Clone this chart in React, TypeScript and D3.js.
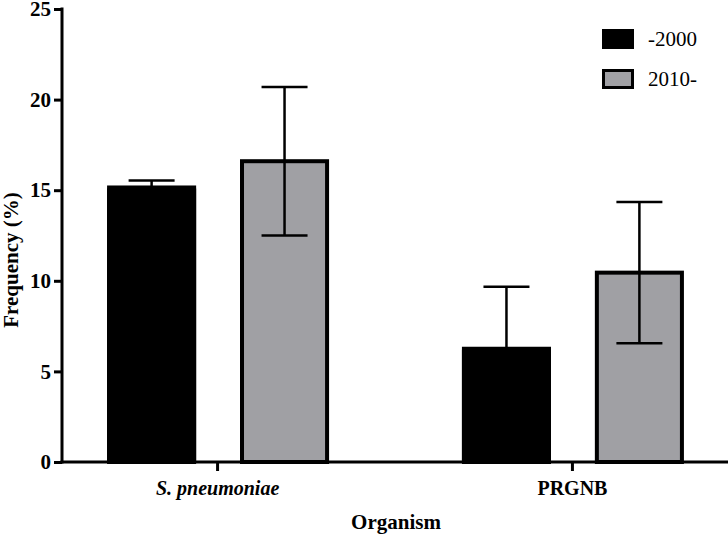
import { useEffect, useRef } from "react";
import * as d3 from "d3";

const organisms = ["S. pneumoniae", "PRGNB"];
const periods = ["-2000", "2010-"];
const means2000 = [15.15, 6.25];
const means2010 = [16.6, 10.45];
const err2000 = [0.38, 3.42];
const err2010 = [4.1, 3.9];
const yTicks = [0, 5, 10, 15, 20, 25];

const W = 728;
const H = 535;
const FONT = "Liberation Serif, Times New Roman, serif";

const App = () => {
  const svgRef = useRef<SVGSVGElement>(null);

  useEffect(() => {
    const svg = d3.select(svgRef.current);
    svg.selectAll("*").remove();

    const x0 = d3.scalePoint().domain(organisms).range([62, 727]).padding(0.437);
    const x1 = d3.scaleBand().domain(periods).range([-110, 112]).paddingInner(0.33).paddingOuter(0);
    const y = d3.scaleLinear().domain([0, 25]).range([462, 9]);
    const fills = ["#000000", "#a0a0a4"];

    const rows = organisms.flatMap((org, i) => [
      { org, period: periods[0], v: means2000[i], e: err2000[i], k: 0 },
      { org, period: periods[1], v: means2010[i], e: err2010[i], k: 1 },
    ]);

    const sw = 4;
    svg.append("g")
      .selectAll("rect")
      .data(rows)
      .join("rect")
      .attr("x", (d) => (x0(d.org) as number) + (x1(d.period) as number) + sw / 2)
      .attr("width", x1.bandwidth() - sw)
      .attr("y", (d) => y(d.v))
      .attr("height", (d) => y(0) - y(d.v))
      .attr("fill", (d) => fills[d.k])
      .attr("stroke", "#000")
      .attr("stroke-width", sw);

    // error bars
    const eb = svg.append("g").attr("stroke", "#000").attr("stroke-width", 2.5);
    rows.forEach((d) => {
      const cx = (x0(d.org) as number) + (x1(d.period) as number) + x1.bandwidth() / 2;
      eb.append("line")
        .attr("x1", cx).attr("x2", cx)
        .attr("y1", y(d.v - d.e)).attr("y2", y(d.v + d.e));
      [d.v + d.e, d.v - d.e].forEach((t) => {
        eb.append("line")
          .attr("x1", cx - 23).attr("x2", cx + 23)
          .attr("y1", y(t)).attr("y2", y(t));
      });
    });

    // black bars hide their lower whisker
    rows
      .filter((d) => d.k === 0)
      .forEach((d) => {
        const bx = (x0(d.org) as number) + (x1(d.period) as number);
        svg.append("rect")
          .attr("x", bx).attr("width", x1.bandwidth())
          .attr("y", y(d.v) + 1).attr("height", y(0) - y(d.v) - 1)
          .attr("fill", "#000");
      });

    const txt = (sel: any, size: number, bold = true) =>
      sel.style("font-family", FONT).style("font-size", size + "px")
        .style("font-weight", bold ? "bold" : "normal").attr("fill", "#000");

    // y axis
    const ya = svg.append("g").attr("transform", "translate(62,0)")
      .call(d3.axisLeft(y).tickValues(yTicks).tickSize(8).tickSizeOuter(0).tickPadding(3));
    ya.select(".domain").attr("stroke-width", 3).attr("d", `M0,${y(25) - 1.5}V${y(0) + 1.5}`);
    ya.selectAll(".tick line").attr("stroke-width", 3);
    txt(ya.selectAll(".tick text"), 21);

    // x axis
    const xa = svg.append("g").attr("transform", `translate(0,${y(0)})`)
      .call(d3.axisBottom(x0).tickSize(9).tickSizeOuter(0).tickPadding(10));
    xa.select(".domain").attr("stroke-width", 3).attr("d", "M60.5,0H728");
    xa.selectAll(".tick line").attr("stroke-width", 3);
    txt(xa.selectAll(".tick text"), 20)
      .style("font-style", (d: string) => (d === "S. pneumoniae" ? "italic" : "normal"));

    // axis titles
    txt(svg.append("text")
      .attr("transform", "translate(18,260) rotate(-90)")
      .attr("text-anchor", "middle")
      .text("Frequency (%)"), 21);
    txt(svg.append("text")
      .attr("x", 396).attr("y", 529)
      .attr("text-anchor", "middle")
      .text("Organism"), 21);

    // legend
    const lg = svg.append("g").attr("transform", "translate(602,29)");
    periods.forEach((p, i) => {
      const g = lg.append("g").attr("transform", `translate(0,${i * 40})`);
      g.append("rect")
        .attr("x", 1.5).attr("y", 1.5).attr("width", 29).attr("height", 17)
        .attr("fill", fills[i]).attr("stroke", "#000").attr("stroke-width", 3);
      txt(g.append("text").attr("x", 46).attr("y", 17).text(p), 21, false);
    });
  }, []);

  return (
    <svg ref={svgRef} width={W} height={H}
      style={{ position: "absolute", left: 0, top: 0, background: "#fff" }} />
  );
};

export default App;
